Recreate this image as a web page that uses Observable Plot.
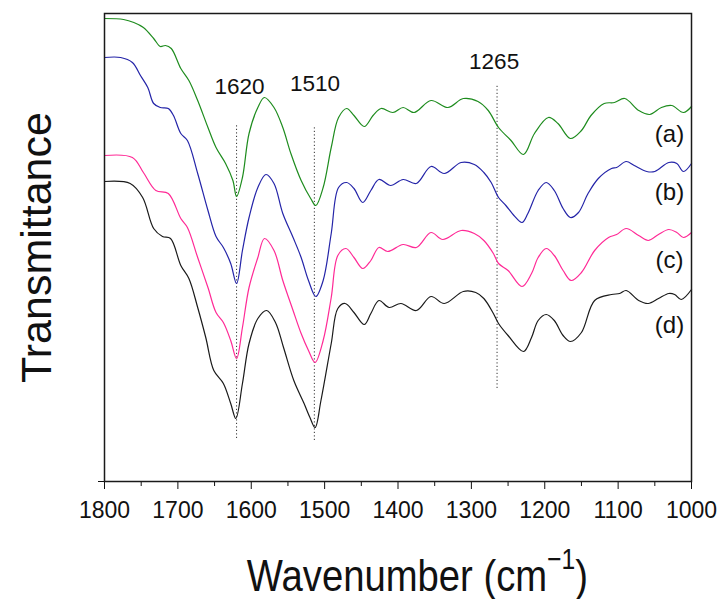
<!DOCTYPE html>
<html><head><meta charset="utf-8">
<script src="https://cdn.jsdelivr.net/npm/d3@7"></script>
<script src="https://cdn.jsdelivr.net/npm/@observablehq/plot@0.6"></script>
<style>
html,body{margin:0;padding:0;background:#fff;}
#chart svg{display:block;}
</style></head><body><div id="chart"></div>
<script>
// ---- Data (wavenumber in cm^-1, transmittance in arbitrary units, curves offset) ----
const seriesKeys = ["a", "b", "c", "d"];
const seriesLabels = ["(a)", "(b)", "(c)", "(d)"];
const seriesColors = ["#1e8c1e", "#2424a8", "#ff2a96", "#1a1a1a"];

const waveA = [1800,1774,1760,1747,1733,1724,1717,1709,1696,1685,1673,1659,1648,1635,1625,1620,1612,1603,1591,1582,1569,1557,1546,1532,1519,1512,1502,1491,1481,1470,1460,1446,1434,1423,1407,1393,1378,1355,1332,1311,1291,1277,1263,1246,1229,1214,1195,1182,1165,1150,1137,1119,1105,1091,1072,1057,1041,1027,1011,1000];
const transA = [463,462,459,454,443,435,436,433,413,401,381,354,334,318,301,285,304,348,374,384,374,354,328,301,283,276,294,334,364,373,366,355,366,373,369,374,369,381,374,383,380,371,354,341,327,348,364,358,343,351,366,378,379,383,371,367,374,376,369,375];

const waveB = [1800,1778,1762,1751,1741,1733,1724,1713,1706,1696,1687,1673,1659,1648,1638,1628,1620,1612,1603,1591,1580,1569,1557,1543,1532,1522,1512,1502,1491,1481,1470,1460,1448,1437,1426,1410,1393,1375,1355,1337,1314,1296,1283,1273,1263,1253,1242,1231,1223,1209,1198,1187,1175,1165,1154,1141,1127,1109,1102,1089,1078,1061,1050,1031,1020,1011,1000];
const transB = [424,424,419,406,394,378,374,373,366,348,341,308,271,245,234,218,198,231,264,294,307,298,268,244,224,201,185,201,248,294,299,293,279,291,302,296,302,298,315,308,319,317,309,299,284,276,266,259,268,291,299,291,273,264,269,288,303,313,314,320,316,310,310,319,318,310,318];

const waveC = [1800,1762,1747,1730,1713,1696,1687,1673,1659,1648,1638,1628,1620,1612,1603,1591,1582,1569,1557,1543,1532,1522,1513,1502,1491,1482,1471,1460,1448,1437,1426,1414,1393,1375,1355,1339,1314,1296,1283,1270,1263,1250,1231,1218,1209,1198,1187,1175,1164,1150,1132,1113,1102,1089,1072,1059,1045,1031,1020,1011,1000];
const transC = [326,324,309,291,288,263,254,224,194,169,159,141,123,154,194,224,243,231,201,171,148,131,119,141,184,226,233,224,213,221,234,230,237,234,249,242,251,248,241,228,218,211,195,208,224,233,226,211,201,209,231,244,247,253,246,241,247,252,249,244,249];

const waveD = [1800,1765,1748,1733,1721,1710,1696,1685,1673,1662,1651,1638,1628,1621,1612,1603,1591,1579,1567,1556,1542,1528,1520,1513,1505,1491,1482,1472,1460,1446,1437,1426,1412,1396,1375,1355,1337,1311,1294,1283,1270,1263,1250,1229,1218,1209,1198,1187,1175,1165,1150,1132,1109,1098,1089,1072,1059,1045,1031,1023,1014,1000];
const transD = [300,298,284,253,245,243,216,203,174,144,111,98,78,63,98,138,163,171,159,134,101,78,64,54,81,138,173,178,169,157,168,181,174,178,171,185,178,190,189,183,168,158,146,130,144,161,167,161,146,140,149,181,187,188,191,181,178,183,188,187,182,192];

// Series label anchors (data units)
const seriesLabelWave = [1030, 1030, 1030, 1030];
const seriesLabelT = [347, 289, 221, 156];

// Marked band positions (dotted guide lines) and their labels
const peakWave = [1620, 1514, 1265];
const peakText = ["1620", "1510", "1265"];
const peakRuleTop = [358, 355, 396];
const peakRuleBottom = [43, 41, 93];
const peakLabelWave = [1616, 1513, 1269];
const peakLabelT = [395, 398, 420];

// Axis ticks
const majorTicks = [1800, 1700, 1600, 1500, 1400, 1300, 1200, 1100, 1000];
const minorTicks = [1750, 1650, 1550, 1450, 1350, 1250, 1150, 1050];

const xTitle = "Wavenumber (cm";
const xTitleSup = "\u22121";
const yTitle = "Transmittance";

// ---- Build table ----
const seriesData = [[waveA, transA], [waveB, transB], [waveC, transC], [waveD, transD]];
const rows = [];
seriesData.forEach(([w, t], k) => {
  w.forEach((wv, i) => rows.push({w: wv, t: t[i], s: seriesKeys[k]}));
});

const font = "'Liberation Sans', Arial, Helvetica, sans-serif";

const svg = Plot.plot({
  width: 717,
  height: 599,
  marginLeft: 104,
  marginRight: 26,
  marginTop: 13,
  marginBottom: 118,
  style: {fontFamily: font, background: "#fff", color: "#111", overflow: "visible"},
  x: {domain: [1000, 1800], reverse: true},
  y: {domain: [0, 468]},
  color: {domain: seriesKeys, range: seriesColors},
  marks: [
    Plot.ruleX(peakWave, {
      x: d => d,
      y1: (d, i) => peakRuleBottom[i],
      y2: (d, i) => peakRuleTop[i],
      stroke: "#333",
      strokeWidth: 1,
      strokeDasharray: "1.2,2.3"
    }),
    Plot.line(rows, {x: "w", y: "t", z: "s", stroke: "s", curve: "catmull-rom", strokeWidth: 1.2}),
    Plot.text(peakText, {
      x: (d, i) => peakLabelWave[i],
      y: (d, i) => peakLabelT[i],
      text: d => d,
      fontSize: 22.5,
      fill: "#111"
    }),
    Plot.text(seriesLabels, {
      x: (d, i) => seriesLabelWave[i],
      y: (d, i) => seriesLabelT[i],
      text: d => d,
      fontSize: 24,
      fill: "#111"
    }),
    Plot.axisX(majorTicks, {tickSize: 8, tickPadding: 12, fontSize: 23, tickFormat: "d", label: null, color: "#111"}),
    Plot.axisX(minorTicks, {tickSize: 5, tickFormat: () => "", label: null, color: "#111"}),
    Plot.axisY([0], {tickSize: 6, tickFormat: () => "", label: null, color: "#111"}),
    Plot.frame({stroke: "#1a1a1a", strokeWidth: 1.5}),
    Plot.text([yTitle], {
      frameAnchor: "left", dx: -54, rotate: -90, textAnchor: "middle", lineAnchor: "bottom",
      fontSize: 43, fill: "#111"
    }),
    Plot.text([xTitle], {
      frameAnchor: "bottom", dx: 19.5, dy: 109, textAnchor: "middle", lineAnchor: "bottom",
      fontSize: 45, fill: "#111"
    })
  ]
});

// Superscript in the x title, and narrower glyphs like the reference
const ns = "http://www.w3.org/2000/svg";
const titleText = Array.from(svg.querySelectorAll("text")).find(el => el.textContent === xTitle);
if (titleText) {
  titleText.textContent = "";
  const t1 = document.createElementNS(ns, "tspan");
  t1.textContent = xTitle;
  const t2 = document.createElementNS(ns, "tspan");
  t2.setAttribute("font-size", "29");
  t2.setAttribute("dy", "-22");
  t2.textContent = xTitleSup;
  const t3 = document.createElementNS(ns, "tspan");
  t3.setAttribute("font-size", "45");
  t3.setAttribute("dy", "22");
  t3.textContent = ")";
  titleText.append(t1, t2, t3);
  const grp = titleText.parentNode;
  const cx = (104 + 691) / 2 + 19.5;
  const wrap = document.createElementNS(ns, "g");
  wrap.setAttribute("transform", `translate(${cx},0) scale(0.85,1) translate(${-cx},0)`);
  grp.parentNode.insertBefore(wrap, grp);
  wrap.appendChild(grp);
}

document.getElementById("chart").appendChild(svg);
</script>
</body></html>
